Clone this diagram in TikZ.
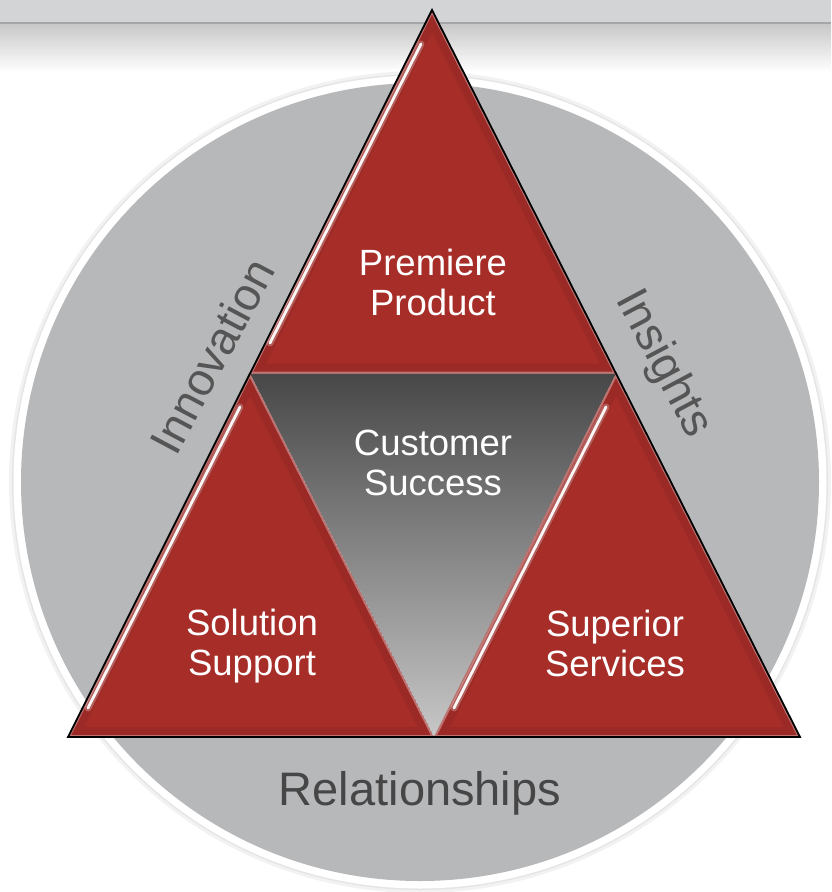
\documentclass[tikz,border=0pt]{standalone}
\usepackage{fontspec}
\setmainfont{Liberation Sans}
\definecolor{tred}{HTML}{A72D28}
\definecolor{disk}{HTML}{B7B8BA}
\definecolor{hdr}{HTML}{D3D4D6}
\definecolor{lbl}{HTML}{555555}
\definecolor{rel}{HTML}{464646}
\tikzset{
  redtri/.style={fill=tred},
  rimdark/.style={draw=black,draw opacity=0.07,line width=20pt,line join=miter},
  rimlight/.style={draw=white,draw opacity=0.35,line width=4pt,line join=miter},
  streakglow/.style={draw=white,line width=7pt,line cap=round,draw opacity=0.25},
  streak/.style={draw=white,line width=2.8pt,line cap=round,draw opacity=0.95},
  intext/.style={text=white,align=center,inner sep=0pt,font=\fontsize{36.5}{40}\selectfont},
  sidetext/.style={text=lbl,inner sep=0pt,font=\fontsize{46}{50}\selectfont}
}
\begin{document}
\begin{tikzpicture}[x=1pt,y=-1pt]
\useasboundingbox (0,0) rectangle (831,892);
\fill[white] (0,0) rectangle (831,892);
% header
\shade[top color=black!22,bottom color=white] (0,23) rectangle (831,72);
\fill[hdr] (0,0) rectangle (831,23);
\draw[black!35,line width=1.2pt] (0,23) -- (831,23);
% disk
\coordinate (O) at (420,482);
\fill[black!5] (O) circle[radius=411];
\fill[black!10] (O) circle[radius=408];
\fill[white] (O) circle[radius=406.5];
\fill[disk] (O) circle[radius=399];
% triangle vertices
\coordinate (A) at (432,10);
\coordinate (L) at (68,737);
\coordinate (R) at (800,737);
\coordinate (ML) at (250,373.5);
\coordinate (MR) at (616,373.5);
\coordinate (MB) at (434,737);
% centre triangle
\shade[top color=black!72,bottom color=black!22] (ML) -- (MR) -- (MB) -- cycle;
% top triangle
\begin{scope}
\clip (ML) -- (A) -- (MR) -- cycle;
\fill[redtri] (ML) -- (A) -- (MR) -- cycle;
\draw[rimdark] (ML) -- (A) -- (MR) -- cycle;
\draw[rimlight] (ML) -- (A) -- (MR) -- cycle;
\draw[streakglow] (270,343) -- (421,44);
\draw[streak] (270,343) -- (421,44);
\end{scope}
% left triangle
\begin{scope}
\clip (L) -- (ML) -- (MB) -- cycle;
\fill[redtri] (L) -- (ML) -- (MB) -- cycle;
\draw[rimdark] (L) -- (ML) -- (MB) -- cycle;
\draw[rimlight] (L) -- (ML) -- (MB) -- cycle;
\draw[streakglow] (88,708) -- (240,407);
\draw[streak] (88,708) -- (240,407);
\end{scope}
% right triangle
\begin{scope}
\clip (MB) -- (MR) -- (R) -- cycle;
\fill[redtri] (MB) -- (MR) -- (R) -- cycle;
\draw[rimdark] (MB) -- (MR) -- (R) -- cycle;
\draw[rimlight] (MB) -- (MR) -- (R) -- cycle;
\draw[streakglow] (454,708) -- (606,407);
\draw[streak] (454,708) -- (606,407);
\end{scope}
% outline
\draw[black,line width=1.8pt,line join=miter] (A) -- (R) -- (L) -- cycle;
% texts
\node[intext] (pp) at (433,282) {Premiere\\Product};
\node[intext] (cs) at (433,463) {Customer\\Success};
\node[intext] (ss) at (252,646) {Solution\\Support};
\node[intext] (sv) at (615,643) {Superior\\Services};
\node[text=rel,inner sep=0pt,font=\fontsize{47}{50}\selectfont,anchor=base] (rl) at (420,805) {Relationships};
\node[sidetext,rotate=62] (inn) at (212,356) {Innovation};
\node[sidetext,rotate=-62] (ins) at (663,364) {Insights};
\end{tikzpicture}
\end{document}
